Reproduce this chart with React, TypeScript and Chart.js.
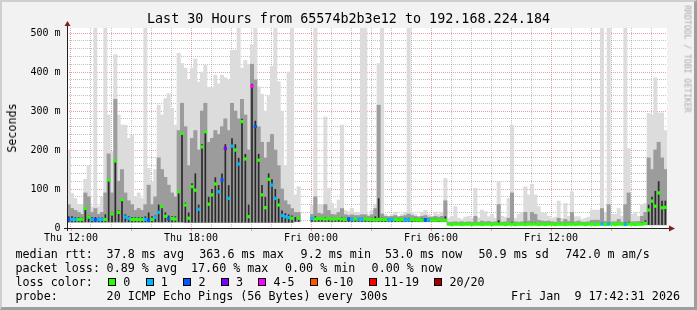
import React, { useEffect, useRef } from 'react';
import { Chart, registerables } from 'chart.js';

Chart.register(...registerables);

const FONT = '"DejaVu Sans Mono", monospace';

// ---- time axis (hours since Thu 00:00) ----
const X_START = 11.8; // Thu 11:48
const X_END = 41.8; // Fri 17:48
const BUCKET_MINUTES = 10;
const hourGrid = [12, 13, 14, 15, 16, 17, 18, 19, 20, 21, 22, 23, 24, 25, 26, 27, 28, 29, 30, 31, 32, 33, 34, 35, 36, 37, 38, 39, 40, 41];
const hourLabels: Record<number, string> = { 12: 'Thu 12:00', 18: 'Thu 18:00', 24: 'Fri 00:00', 30: 'Fri 06:00', 36: 'Fri 12:00' };
const axisTickHours = [12, 15, 18, 21, 24, 27, 30, 33, 36, 39];
const yGrid = [0, 20, 40, 60, 80, 100, 120, 140, 160, 180, 200, 220, 240, 260, 280, 300, 320, 340, 360, 380, 400, 420, 440, 460, 480, 500];
const Y_MAX = 513;

// ---- smoke (ms), one entry per 10-minute bucket ----
const smokeLo: (number | null)[] = [
  15, 15, 15, 15, 15, 15, 15, 15, 15, 15,
  15, 15, 15, 15, 15, 15, 15, 15, 15, 15,
  15, 15, 15, 15, 15, 15, 15, 15, 15, 15,
  15, 15, 15, 15, 15, 14, 14, 14, 14, 14,
  14, 14, 14, 14, 14, 14, 14, 14, 14, 14,
  14, 14, 14, 14, 14, 14, 14, 14, 14, 14,
  14, 14, 14, 14, 14, 14, 14, 14, 16, 16,
  null, null, null, 16, 16, 16, 16, 16, 16, 16,
  16, 16, 16, 16, 16, 16, 16, 16, 16, 16,
  16, 16, 16, 16, 16, 16, 16, 16, 16, 16,
  16, 16, 16, 16, 16, 16, 16, 16, 16, 16,
  16, 16, 16, 16, 8, 8, 8, 8, 8, 8,
  8, 8, 8, 8, 8, 8, 8, 8, 8, 8,
  8, 8, 8, 8, 8, 8, 8, 8, 8, 8,
  8, 8, 8, 8, 8, 8, 8, 8, 8, 8,
  8, 8, 8, 8, 8, 8, 8, 8, 8, 8,
  8, 8, 8, 8, 8, 8, 8, 8, 8, 8,
  8, 8, 8, 8, 8, 8, 8, 8, 8, 8,
];
const smokeDark: (number | null)[] = [
  30, 30, 28, 28, 27, 52, 32, 28, 28, 27,
  27, 35, 125, 40, 175, 45, 75, 35, 30, 28,
  28, 28, 28, 30, 40, 30, 32, 60, 58, 40,
  32, 30, 30, 95, 245, 65, 40, 115, 140, 60,
  215, 250, 80, 100, 130, 110, 140, 215, 110, 230,
  215, 180, 280, 190, 60, 370, 275, 190, 110, 80,
  140, 125, 100, 75, 45, 38, 35, 32, 28, 28,
  null, null, null, 26, 30, 26, 26, 28, 27, 26,
  26, 27, 28, 26, 26, 26, 25, 26, 26, 26,
  25, 26, 30, 76, 26, 25, 25, 25, 26, 25,
  25, 26, 26, 25, 25, 24, 25, 25, 24, 24,
  24, 24, 24, 30, 12, 12, 12, 12, 12, 12,
  12, 12, 13, 12, 13, 12, 12, 12, 12, 20,
  12, 12, 13, 16, 12, 12, 12, 14, 12, 14,
  14, 12, 12, 12, 12, 12, 12, 13, 12, 13,
  12, 14, 12, 12, 12, 12, 12, 13, 13, 13,
  14, 12, 14, 12, 12, 13, 12, 14, 16, 12,
  12, 12, 15, 20, 60, 80, 95, 120, 70, 70,
];
const smokeMid: (number | null)[] = [
  60, 50, 45, 40, 35, 90, 80, 40, 50, 35,
  40, 90, 190, 90, 330, 120, 150, 90, 70, 60,
  45, 50, 45, 60, 110, 60, 80, 180, 150, 130,
  110, 90, 80, 250, 320, 260, 160, 230, 250, 200,
  300, 320, 220, 230, 250, 240, 260, 280, 250, 320,
  300, 280, 330, 290, 200, 420, 380, 260, 220, 180,
  220, 240, 200, 160, 100, 70, 60, 50, 40, 40,
  null, null, null, 35, 80, 38, 36, 60, 45, 35,
  34, 40, 50, 34, 32, 34, 32, 32, 34, 34,
  30, 34, 50, 315, 36, 30, 29, 30, 32, 29,
  30, 32, 36, 32, 30, 28, 30, 32, 28, 28,
  30, 28, 30, 70, 15, 15, 16, 15, 16, 15,
  16, 15, 30, 15, 18, 16, 17, 15, 16, 60,
  15, 16, 25, 90, 16, 15, 16, 40, 18, 40,
  35, 20, 18, 17, 18, 16, 15, 25, 16, 22,
  17, 40, 16, 18, 15, 15, 16, 20, 20, 20,
  50, 17, 60, 16, 16, 22, 15, 60, 90, 16,
  16, 17, 30, 40, 180, 150, 200, 220, 180, 150,
];
const smokeHi: (number | null)[] = [
  200, 89, 76, 60, 60, 125, 160, 55, 600, 55,
  80, 600, 290, 196, 445, 290, 264, 264, 230, 238,
  80, 90, 76, 600, 153, 119, 150, 315, 290, 332,
  345, 307, 264, 448, 422, 410, 380, 410, 433, 374,
  400, 417, 361, 361, 392, 370, 392, 385, 380, 456,
  456, 600, 410, 430, 420, 470, 600, 362, 343, 300,
  340, 415, 600, 375, 300, 160, 400, 600, 85, 106,
  null, null, null, 59, 600, 59, 60, 285, 102, 63,
  50, 72, 264, 45, 42, 50, 40, 40, 600, 600,
  35, 45, 60, 422, 600, 35, 30, 35, 40, 30,
  35, 40, 600, 40, 35, 30, 40, 45, 35, 30,
  40, 35, 40, 127, 25, 30, 55, 25, 22, 28,
  30, 25, 102, 26, 46, 42, 29, 35, 25, 119,
  30, 28, 76, 264, 25, 35, 40, 106, 85, 112,
  85, 55, 38, 38, 30, 25, 28, 69, 25, 63,
  30, 93, 29, 29, 22, 25, 28, 46, 46, 46,
  600, 40, 600, 35, 35, 50, 30, 600, 204, 35,
  40, 30, 59, 63, 294, 290, 385, 295, 295, 250,
];

// ---- median rtt (ms) and loss class per bucket ----
const medianRtt: (number | null)[] = [
  22, 22, 22, 22, 22, 50, 28, 22, 21, 22,
  22, 22, 123, 36, 172, 40, 73, 28, 24, 22,
  22, 22, 22, 22, 20, 22, 27, 40, 55, 30,
  24, 24, 23, 93, 243, 59, 25, 106, 97, 48,
  208, 247, 61, 85, 113, 93, 123, 204, 76, 210,
  200, 164, 273, 177, 29, 364, 260, 174, 85, 52,
  125, 110, 76, 59, 32, 29, 27, 25, null, 25,
  null, null, null, 24, 23, 24, 24, 23, 24, 23,
  23, 24, 23, 22, 23, 22, 23, 22, 22, 23,
  22, 22, 21, 22, 22, 22, 21, 22, 22, 21,
  22, 21, 21, 22, 21, 21, 20, 21, 21, 20,
  20, 21, 20, 20, 10, 9, 10, 10, 9, 10,
  10, 9, 10, 10, 9, 10, 10, 9, 10, 10,
  10, 9, 10, 10, 9, 10, 10, 9, 10, 10,
  10, 9, 10, 9, 10, 10, 9, 10, 10, 9,
  10, 10, 9, 10, 10, 9, 10, 10, 9, 10,
  10, 9, 10, 10, 9, 10, 10, 9, 10, 10,
  9, 10, 10, 12, 46, 69, 56, 90, 52, 53,
];
const lossIdx: number[] = [
  2, 1, 1, 0, 0, 0, 0, 1, 2, 1,
  1, 0, 0, 0, 0, 0, 0, 1, 1, 0,
  0, 0, 0, 1, 2, 0, 1, 1, 0, 0,
  2, 0, 0, 0, 0, 0, 0, 0, 0, 1,
  0, 0, 0, 0, 0, 1, 2, 3, 1, 1,
  0, 1, 0, 0, 0, 4, 2, 0, 0, 0,
  0, 1, 1, 0, 1, 1, 1, 0, 0, 0,
  0, 0, 0, 1, 0, 0, 0, 0, 0, 0,
  0, 0, 0, 0, 2, 1, 0, 1, 1, 0,
  0, 0, 0, 0, 0, 0, 1, 1, 0, 0,
  0, 1, 1, 0, 0, 0, 0, 2, 1, 0,
  0, 0, 0, 0, 0, 0, 0, 0, 0, 0,
  0, 0, 0, 0, 0, 0, 0, 0, 0, 0,
  0, 0, 0, 0, 0, 0, 0, 0, 0, 0,
  0, 0, 0, 0, 0, 0, 0, 0, 0, 0,
  0, 0, 0, 0, 0, 0, 0, 0, 0, 0,
  1, 0, 1, 0, 0, 0, 0, 1, 0, 0,
  0, 0, 0, 0, 0, 0, 0, 0, 0, 0,
];

const lossLabels = ['0', '1', '2', '3', '4-5', '6-10', '11-19', '20/20'];
const lossColors = ['#26ff00', '#00b8ff', '#0059ff', '#7e00ff', '#ff00ff', '#ff5500', '#ff0000', '#a10000'];

const statLines: [number, number, string][] = [
  [247, 15.5, 'median rtt:'], [247, 106.6, '37.8 ms avg'], [247, 199.3, '363.6 ms max'], [247, 300.6, '9.2 ms min'],
  [247, 385, '53.0 ms now'], [247, 478.5, '50.9 ms sd'], [247, 565.3, '742.0 m am/s'],
  [261, 15.5, 'packet loss:'], [261, 106.6, '0.89 % avg'], [261, 191, '17.60 % max'], [261, 285, '0.00 % min'], [261, 371.6, '0.00 % now'],
  [275, 15.5, 'loss color:'],
  [289, 15.5, 'probe:'], [289, 106.6, '20 ICMP Echo Pings (56 Bytes) every 300s'],
];

const GRID_MINOR = 'rgba(143,143,143,0.55)';
const GRID_MAJOR = 'rgba(222,79,79,0.55)';

const rrdPlugin = {
  id: 'rrdFrame',
  beforeDraw(chart: any) {
    const { ctx, chartArea: a } = chart;
    ctx.save();
    ctx.fillStyle = '#ffffff';
    ctx.fillRect(a.left, a.top, a.right - a.left, a.bottom - a.top);
    ctx.restore();
  },
  afterDraw(chart: any) {
    const { ctx, chartArea: a, scales } = chart;
    ctx.save();
    ctx.lineWidth = 1;
    ctx.strokeStyle = GRID_MAJOR;
    for (const h of axisTickHours) {
      const px = Math.round(scales.x.getPixelForValue(h)) + 0.5;
      ctx.beginPath();
      ctx.moveTo(px, a.bottom + 1);
      ctx.lineTo(px, a.bottom + 3);
      ctx.stroke();
    }
    const y0 = Math.round(a.bottom) + 0.5;
    const x0 = Math.round(a.left) + 0.5;
    ctx.strokeStyle = '#1f1f1f';
    ctx.beginPath();
    ctx.moveTo(a.left - 3, y0);
    ctx.lineTo(a.right + 3, y0);
    ctx.stroke();
    ctx.beginPath();
    ctx.moveTo(x0, a.bottom + 3);
    ctx.lineTo(x0, a.top - 3);
    ctx.stroke();
    ctx.fillStyle = '#801f1f';
    ctx.beginPath();
    ctx.moveTo(x0, a.top - 7);
    ctx.lineTo(x0 - 3, a.top - 2);
    ctx.lineTo(x0 + 3, a.top - 2);
    ctx.closePath();
    ctx.fill();
    ctx.beginPath();
    ctx.moveTo(a.right + 8, y0);
    ctx.lineTo(a.right + 2, y0 - 3);
    ctx.lineTo(a.right + 2, y0 + 3);
    ctx.closePath();
    ctx.fill();
    ctx.restore();
  },
};

export default function App() {
  const ref = useRef<HTMLCanvasElement>(null);

  useEffect(() => {
    document.body.style.margin = '0';
    const times = medianRtt.map((_, i) => X_START + ((i + 0.5) * BUCKET_MINUTES) / 60);
    const band = (top: (number | null)[]) =>
      times.map((t, i) => {
        const lo = smokeLo[i];
        const hi = top[i];
        return { x: t, y: lo == null || hi == null ? null : [lo, hi] };
      });
    const barCommon = {
      type: 'bar' as const,
      grouped: false,
      barPercentage: 1,
      categoryPercentage: 1,
      borderWidth: 0,
    };
    const chart = new Chart(ref.current as HTMLCanvasElement, {
      type: 'bar',
      data: {
        datasets: [
          {
            type: 'line',
            data: times.map((t, i) => ({ x: t, y: medianRtt[i] })),
            showLine: false,
            pointStyle: 'rect',
            pointRadius: 2.3,
            pointBorderWidth: 0,
            pointBackgroundColor: lossIdx.map((l) => lossColors[l]),
            order: 0,
          } as any,
          { ...barCommon, barPercentage: 0.5, data: band(smokeDark), backgroundColor: '#2a2a2a', order: 1 } as any,
          { ...barCommon, data: band(smokeMid), backgroundColor: '#9c9c9c', order: 2 } as any,
          { ...barCommon, data: band(smokeHi), backgroundColor: '#dcdcdc', order: 3 } as any,
        ],
      },
      options: {
        responsive: false,
        maintainAspectRatio: false,
        animation: false,
        devicePixelRatio: 1,
        events: [],
        layout: { padding: { top: 28, right: 30, left: 0, bottom: 0 } },
        plugins: { legend: { display: false }, tooltip: { enabled: false }, title: { display: false } },
        scales: {
          x: {
            type: 'linear',
            min: X_START,
            max: X_END,
            offset: false,
            z: 1,
            afterBuildTicks: (s: any) => {
              s.ticks = hourGrid.map((v) => ({ value: v }));
            },
            afterFit: (s: any) => {
              s.height = 82;
            },
            ticks: {
              autoSkip: false,
              maxRotation: 0,
              minRotation: 0,
              padding: 4,
              color: '#000',
              font: { family: FONT, size: 10 },
              callback: (v: any) => hourLabels[v as number] ?? '',
            },
            grid: {
              offset: false,
              drawTicks: false,
              lineWidth: 1,
              color: (c: any) => (c.tick && c.tick.value % 6 === 0 ? GRID_MAJOR : GRID_MINOR),
            },
            border: { display: false, dash: [1, 1] },
          } as any,
          y: {
            type: 'linear',
            min: 0,
            max: Y_MAX,
            z: 1,
            afterBuildTicks: (s: any) => {
              s.ticks = yGrid.map((v) => ({ value: v }));
            },
            afterFit: (s: any) => {
              s.width = 67;
            },
            ticks: {
              autoSkip: false,
              padding: 6.5,
              color: '#000',
              font: { family: FONT, size: 10 },
              callback: (v: any) => (v % 100 === 0 ? (v === 0 ? '0' : `${v} m`) : ''),
            },
            grid: {
              drawTicks: false,
              lineWidth: 1,
              color: (c: any) => (c.tick && c.tick.value % 100 === 0 ? GRID_MAJOR : GRID_MINOR),
            },
            border: { display: false, dash: [1, 1] },
          } as any,
        },
      },
      plugins: [rrdPlugin],
    });
    return () => chart.destroy();
  }, []);

  const text: React.CSSProperties = {
    position: 'absolute',
    fontFamily: FONT,
    fontSize: '11.7px',
    lineHeight: '14px',
    whiteSpace: 'pre',
    color: '#000',
  };

  return (
    <div
      style={{
        position: 'fixed',
        left: 0,
        top: 0,
        width: 697,
        height: 310,
        background: '#f2f2f2',
        overflow: 'hidden',
        boxSizing: 'border-box',
        borderTop: '2px solid #cfcfcf',
        borderLeft: '2px solid #cfcfcf',
        borderRight: '3px solid #9e9e9e',
        borderBottom: '3px solid #9e9e9e',
      }}
    >
      <canvas ref={ref} width={697} height={310} style={{ position: 'absolute', left: -2, top: -2, width: 697, height: 310 }} />
      <div
        style={{
          position: 'absolute',
          left: -2,
          top: 9.4,
          width: 697,
          textAlign: 'center',
          fontFamily: FONT,
          fontSize: '13.4px',
          lineHeight: '16px',
          whiteSpace: 'pre',
          color: '#000',
        }}
      >
        Last 30 Hours from 65574b2b3e12 to 192.168.224.184
      </div>
      <div
        style={{
          ...text,
          left: 9.5,
          top: 126,
          transform: 'translate(-50%, -50%) rotate(-90deg)',
        }}
      >
        Seconds
      </div>
      <div
        style={{
          position: 'absolute',
          left: 684.5,
          top: 57,
          transform: 'translate(-50%, -50%) rotate(90deg)',
          fontFamily: FONT,
          fontSize: '8.1px',
          lineHeight: '9px',
          whiteSpace: 'pre',
          color: '#ababab',
        }}
      >
        RRDTOOL / TOBI OETIKER
      </div>
      {statLines.map(([top, left, s], i) => (
        <div key={i} style={{ ...text, top: top - 2, left: left - 2 }}>
          {s}
        </div>
      ))}
      <div style={{ ...text, top: 273, left: 106.3, display: 'flex', alignItems: 'center', height: 14 }}>
        {lossLabels.map((lab, i) => (
          <span key={lab} style={{ display: 'inline-flex', alignItems: 'center', marginRight: 15.5 }}>
            <span
              style={{
                display: 'inline-block',
                width: 8,
                height: 8,
                boxSizing: 'border-box',
                border: '1px solid #000',
                background: lossColors[i],
                marginRight: 7,
              }}
            />
            <span>{lab}</span>
          </span>
        ))}
      </div>
      <div style={{ ...text, top: 287, right: 14, textAlign: 'right' }}>Fri Jan  9 17:42:31 2026</div>
    </div>
  );
}
